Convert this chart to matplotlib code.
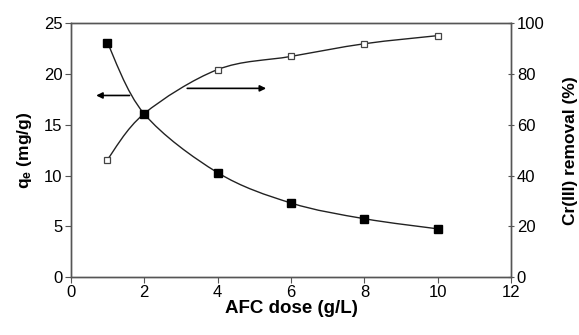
import matplotlib
matplotlib.use('Agg')
import matplotlib.pyplot as plt
from matplotlib.path import Path
from matplotlib.patches import PathPatch

plt.rcParams['font.family'] = 'Liberation Sans'
plt.rcParams['mathtext.fontset'] = 'custom'
plt.rcParams['mathtext.rm'] = 'Liberation Sans:bold'
plt.rcParams['mathtext.it'] = 'Liberation Sans:bold'

# data
dose = [1, 2, 4, 6, 8, 10]
qe = [23.1, 16.1, 10.3, 7.3, 5.75, 4.75]
removal = [46.3, 64.4, 81.8, 87.0, 92.0, 95.2]


def smooth_path(xs, ys):
    # Catmull-Rom style curve through the points (like Excel smoothed lines)
    verts = [(xs[0], ys[0])]
    codes = [Path.MOVETO]
    n = len(xs)
    for i in range(n - 1):
        x0, y0 = (xs[i - 1], ys[i - 1]) if i > 0 else (xs[i], ys[i])
        x1, y1 = xs[i], ys[i]
        x2, y2 = xs[i + 1], ys[i + 1]
        x3, y3 = (xs[i + 2], ys[i + 2]) if i + 2 < n else (x2, y2)
        c1 = (x1 + (x2 - x0) / 6, y1 + (y2 - y0) / 6)
        c2 = (x2 - (x3 - x1) / 6, y2 - (y3 - y1) / 6)
        verts += [c1, c2, (x2, y2)]
        codes += [Path.CURVE4] * 3
    return Path(verts, codes)


fig = plt.figure(figsize=(5.79, 3.35), dpi=100)
ax = fig.add_axes([0.122, 0.173, 0.761, 0.757])
ax2 = ax.twinx()
# keep the filled markers on top of the open ones
ax.set_zorder(ax2.get_zorder() + 1)
ax.patch.set_visible(False)

ax2.add_patch(PathPatch(smooth_path(dose, removal), fill=False, color='#222222', lw=1.0))
ax2.plot(dose, removal, 's', mfc='white', mec='#444444', mew=0.9, ms=4.8, ls='none', zorder=3)

ax.add_patch(PathPatch(smooth_path(dose, qe), fill=False, color='#222222', lw=1.0))
ax.plot(dose, qe, 's', color='black', ms=5.2, ls='none', zorder=3)

ax.set_xlim(0, 12)
ax.set_ylim(0, 25)
ax2.set_ylim(0, 100)
ax.set_xticks(range(0, 13, 2))
ax.set_yticks(range(0, 26, 5))
ax2.set_yticks(range(0, 101, 20))

ax.annotate('', xy=(0.62, 17.9), xytext=(1.68, 17.9),
            arrowprops=dict(arrowstyle='-|>', color='black', lw=1.2, mutation_scale=9))
ax.annotate('', xy=(5.4, 18.6), xytext=(3.1, 18.6),
            arrowprops=dict(arrowstyle='-|>', color='black', lw=1.2, mutation_scale=9))

ax.set_xlabel('AFC dose (g/L)', fontsize=13.5, fontweight='bold', labelpad=0)
ax.set_ylabel('q$_\\mathregular{e}$ (mg/g)', fontsize=12.5, fontweight='bold', labelpad=7)
ax2.set_ylabel('Cr(III) removal (%)', fontsize=12.5, fontweight='bold', labelpad=13)

for a in (ax, ax2):
    for s in a.spines.values():
        s.set_color('#555555')
        s.set_linewidth(1.0)
ax.tick_params(axis='both', labelsize=12, length=4, color='#555555', pad=2)
ax2.tick_params(axis='y', labelsize=12, length=4, direction='inout', color='#555555', pad=2)

fig.savefig('out.png', dpi=100)
